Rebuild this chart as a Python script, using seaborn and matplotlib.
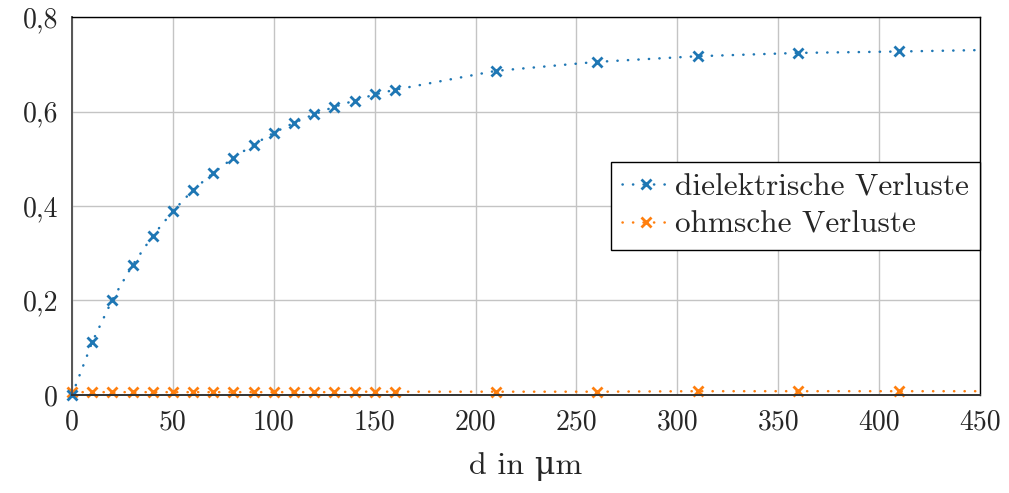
import matplotlib
matplotlib.use("Agg")
import matplotlib.pyplot as plt
from matplotlib.lines import Line2D
import seaborn as sns
import pandas as pd

# Layer thickness d in µm (marked samples)
d_um = [0, 10, 20, 30, 40, 50, 60, 70, 80, 90, 100, 110, 120, 130, 140, 150, 160,
        210, 260, 310, 360, 410]
# Dielectric losses at the marked samples
dielectric = [0.000, 0.112, 0.202, 0.275, 0.337, 0.389, 0.434, 0.470, 0.502, 0.530,
              0.555, 0.576, 0.594, 0.610, 0.623, 0.636, 0.646,
              0.686, 0.705, 0.717, 0.724, 0.727]
# Ohmic losses at the marked samples
ohmic = [0.006, 0.006, 0.006, 0.006, 0.006, 0.006, 0.006, 0.006, 0.006, 0.006,
         0.006, 0.006, 0.006, 0.006, 0.007, 0.007, 0.007,
         0.007, 0.007, 0.008, 0.008, 0.008]
# Curve end values at the right edge of the axis
d_end = 450
dielectric_end = 0.730
ohmic_end = 0.008

series_labels = ["dielektrische Verluste", "ohmsche Verluste"]
x_label = "d in μm"
x_ticks = [0, 50, 100, 150, 200, 250, 300, 350, 400, 450]
y_ticks = [0, 0.2, 0.4, 0.6, 0.8]
y_tick_labels = ["0", "0,2", "0,4", "0,6", "0,8"]

sns.set_style("white")
plt.rcParams["font.family"] = ["cmr10", "DejaVu Serif"]
plt.rcParams["axes.unicode_minus"] = False

blue = "#1f77b4"
orange = "#ff7f0e"
dot_style = (0, (0.1, 4.1))
line_w = 1.8

fig = plt.figure(figsize=(10.09, 4.93), dpi=100)
ax = fig.add_axes([0.0714, 0.1988, 0.9713 - 0.0714, 0.9655 - 0.1988])

line_df = pd.DataFrame({
    "d": d_um + [d_end],
    "diel": dielectric + [dielectric_end],
    "ohm": ohmic + [ohmic_end],
})
mark_df = pd.DataFrame({"d": d_um, "diel": dielectric, "ohm": ohmic})

for col, color in (("ohm", orange), ("diel", blue)):
    sns.lineplot(data=line_df, x="d", y=col, ax=ax, color=color,
                 linestyle=dot_style, linewidth=line_w,
                 dash_capstyle="round", zorder=3)
    sns.scatterplot(data=mark_df, x="d", y=col, ax=ax, color=color,
                    marker="x", s=52, linewidth=2.0, zorder=4, clip_on=False)

ax.set_xlim(0, 450)
ax.set_ylim(0, 0.8)
ax.set_xticks(x_ticks)
ax.set_xticklabels([str(t) for t in x_ticks])
ax.set_yticks(y_ticks)
ax.set_yticklabels(y_tick_labels)
ax.set_xlabel(x_label, fontsize=23, labelpad=12)
ax.set_ylabel("")

ax.grid(True, color="#c4c4c4", linewidth=1.0)
ax.set_axisbelow(True)
ax.tick_params(axis="both", which="major", direction="out", length=7,
               width=1.0, color="#b0b0b0", labelsize=20, pad=3)

for side in ("top", "right"):
    ax.spines[side].set_color("black")
    ax.spines[side].set_linewidth(1.0)
ax.spines["left"].set_color("#555555")
ax.spines["left"].set_linewidth(1.4)
ax.spines["bottom"].set_color("#333333")
ax.spines["bottom"].set_linewidth(1.4)
for s in ax.spines.values():
    s.set_zorder(5)

handles = [
    Line2D([], [], color=c, linestyle=dot_style, linewidth=line_w,
           dash_capstyle="round", marker="x", markersize=7.2, markeredgewidth=2.0)
    for c in (blue, orange)
]
leg = ax.legend(handles, series_labels, loc="center right",
                bbox_to_anchor=(1.0, 0.5), borderaxespad=0.0,
                fontsize=22.5, fancybox=False, framealpha=1.0,
                edgecolor="black", handlelength=1.5, handletextpad=0.2,
                borderpad=0.35, labelspacing=0.3)
leg.get_frame().set_linewidth(1.0)
leg.set_zorder(6)

fig.savefig("out.png", dpi=100)
